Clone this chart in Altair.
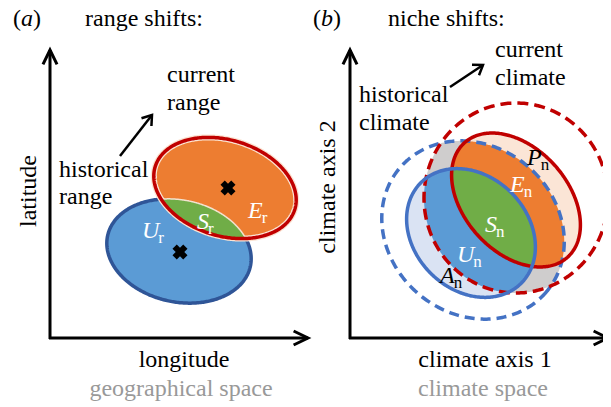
import numpy as np
import pandas as pd
import altair as alt

# ---------------- data (page-pixel coordinates) ----------------
# ellipses: (cx, cy, semi-axis a, semi-axis b, rotation deg, y down)
range_hist = (179, 251, 73, 51, 12)      # U_r ellipse (blue)
range_curr = (225, 188, 73, 48, 17)      # E_r ellipse (orange)
niche_hist = (471, 233, 71, 57, 45)      # solid blue niche
niche_curr = (516, 200, 77, 52, 48)      # solid red niche
clim_hist = (473, 230, 96, 84, 40)       # dashed blue climate
clim_curr = (516, 198, 92, 95, 0)        # dashed red climate

centroid_x = [228, 180]
centroid_y = [188, 252]

# arrows: tail x, tail y, tip x, tip y, head length, head angle
arrow_x0 = [50, 49, 350, 349, 120, 450]
arrow_y0 = [339, 338, 339, 338, 156, 87]
arrow_x1 = [50, 308, 350, 608, 152, 483]
arrow_y1 = [50, 338, 50, 338, 115, 65]
arrow_len = [16, 16, 16, 16, 11, 11]
arrow_ang = [26, 26, 26, 26, 35, 35]

# plain left-aligned texts
txt = ["range shifts:", "niche shifts:", "current", "range", "historical", "range",
       "current", "climate", "historical", "climate"]
txt_x = [85, 388, 167, 167, 59, 59, 495, 495, 359, 359]
txt_y = [26, 26, 82, 110, 177, 204, 57, 85, 102, 130]

# panel tags "(a)" "(b)"
tag = ["a", "b"]
tag_x = [13, 313]
tag_y = [26, 26]

# axis titles
axis_txt = ["longitude", "climate axis 1"]
axis_x = [184, 485]
axis_y = [367, 367]
space_txt = ["geographical space", "climate space"]
space_x = [181, 483]
space_y = [396, 396]
rot_txt = ["latitude", "climate axis 2"]
rot_x = [36, 335]
rot_y = [191, 187]

# region labels: letter, subscript, x, y(baseline), colour
lab_main = ["U", "S", "E", "P", "E", "S", "U", "A"]
lab_sub = ["r", "r", "r", "n", "n", "n", "n", "n"]
lab_x = [142, 197, 248, 527, 510, 485, 457, 440]
lab_y = [238, 229, 218, 165, 192, 232, 262, 283]
lab_col = ["white", "white", "white", "black", "white", "white", "white", "black"]

FONT = "Times New Roman, Liberation Serif, DejaVu Serif, serif"
FS = 24
W, H = 595, 397
xs = alt.Scale(domain=[8, 8 + W], nice=False, zero=False)
ys = alt.Scale(domain=[8, 8 + H], nice=False, zero=False, reverse=True)
X = alt.X("x:Q", scale=xs, axis=None)
Y = alt.Y("y:Q", scale=ys, axis=None)


def ellipse(e, n=360):
    cx, cy, a, b, th = e
    t = np.linspace(0, 2 * np.pi, n, endpoint=False)
    r = np.deg2rad(th)
    x = cx + a * np.cos(t) * np.cos(r) - b * np.sin(t) * np.sin(r)
    y = cy + a * np.cos(t) * np.sin(r) + b * np.sin(t) * np.cos(r)
    return x, y


def inside(x, y, e):
    cx, cy, a, b, th = e
    r = np.deg2rad(th)
    dx, dy = x - cx, y - cy
    u = dx * np.cos(r) + dy * np.sin(r)
    v = -dx * np.sin(r) + dy * np.cos(r)
    return (u / a) ** 2 + (v / b) ** 2 <= 1 + 1e-9


def intersect(*es):
    pts = []
    for i, e in enumerate(es):
        x, y = ellipse(e, 720)
        m = np.ones_like(x, dtype=bool)
        for j, f in enumerate(es):
            if j != i:
                m &= inside(x, y, f)
        pts.append(np.c_[x[m], y[m]])
    P = np.vstack(pts)
    c = P.mean(0)
    ang = np.arctan2(P[:, 1] - c[1], P[:, 0] - c[0])
    P = P[np.argsort(ang)]
    return P[:, 0], P[:, 1]


def poly(xy, fill=None, stroke=None, sw=0, dash=None):
    x, y = xy
    df = pd.DataFrame({"x": x, "y": y, "i": np.arange(len(x))})
    kw = dict(interpolate="linear-closed")
    if fill is not None:
        kw["fill"] = fill
    if stroke is not None:
        kw["stroke"] = stroke
        kw["strokeWidth"] = sw
    else:
        kw["strokeWidth"] = 0
        kw["stroke"] = "transparent"
    if dash is not None:
        kw["strokeDash"] = dash
    return alt.Chart(df).mark_line(**kw).encode(x=X, y=Y, order=alt.Order("i:Q"))


def seg(xs_, ys_, color="black", sw=3, join="miter"):
    df = pd.DataFrame({"x": xs_, "y": ys_, "i": np.arange(len(xs_))})
    return alt.Chart(df).mark_line(color=color, strokeWidth=sw, strokeJoin=join,
                                   strokeCap="butt").encode(x=X, y=Y, order=alt.Order("i:Q"))


layers = []

# ---------------- panel (a) ----------------
layers.append(poly(ellipse(range_hist), fill="#5b9bd5", stroke="#2f5597", sw=3.5))
layers.append(poly(ellipse(range_curr), fill="#ed7d31", stroke="#fbe3d2", sw=6))
layers.append(poly(intersect(range_hist, range_curr), fill="#70ad47", stroke="#f3e2cf", sw=1.5))
layers.append(poly(ellipse(range_curr), stroke="#c00000", sw=3.5))

# ---------------- panel (b) ----------------
layers.append(poly(intersect(clim_hist, clim_curr), fill="#cfcdcd"))
layers.append(poly(ellipse(niche_hist), fill="#dae3f3"))
layers.append(poly(ellipse(niche_curr), fill="#fbe5d6"))
layers.append(poly(intersect(niche_hist, clim_hist, clim_curr), fill="#5b9bd5"))
layers.append(poly(intersect(niche_curr, clim_hist, clim_curr), fill="#ed7d31"))
layers.append(poly(intersect(niche_hist, niche_curr), fill="#70ad47"))
layers.append(poly(ellipse(clim_hist), stroke="#4472c4", sw=3.5, dash=[10, 6]))
layers.append(poly(ellipse(clim_curr), stroke="#c00000", sw=3.5, dash=[11, 6]))
layers.append(poly(ellipse(niche_curr), stroke="#c00000", sw=3.5))
layers.append(poly(ellipse(niche_hist), stroke="#4472c4", sw=3.5))

# centroid crosses
cdf = pd.DataFrame({"x": centroid_x, "y": centroid_y})
layers.append(alt.Chart(cdf).mark_point(shape="cross", angle=45, filled=True, size=230,
                                        color="black", opacity=1).encode(x=X, y=Y))

# arrows
for x0, y0, x1, y1, L, A in zip(arrow_x0, arrow_y0, arrow_x1, arrow_y1, arrow_len, arrow_ang):
    sw = 3 if L > 12 else 2.5
    layers.append(seg([x0, x1], [y0, y1], sw=sw))
    d = np.array([x1 - x0, y1 - y0], dtype=float)
    d /= np.linalg.norm(d)
    hx, hy = [], []
    for s in (1, -1):
        a = np.deg2rad(A) * s
        rx = d[0] * np.cos(a) - d[1] * np.sin(a)
        ry = d[0] * np.sin(a) + d[1] * np.cos(a)
        hx.append(x1 - L * rx)
        hy.append(y1 - L * ry)
    layers.append(seg([hx[0], x1, hx[1]], [hy[0], y1, hy[1]], sw=sw))

# texts
tdf = pd.DataFrame({"x": txt_x, "y": txt_y, "t": txt})
layers.append(alt.Chart(tdf).mark_text(font=FONT, fontSize=FS, align="left", baseline="alphabetic",
                                       color="black").encode(x=X, y=Y, text="t:N"))

pdf = pd.DataFrame({"x": [v for xx in tag_x for v in (xx, xx + 0.333 * FS, xx + 0.833 * FS)],
                    "y": [v for yy in tag_y for v in (yy, yy, yy)],
                    "t": [v for tt in tag for v in ("(", tt, ")")],
                    "s": ["normal", "italic", "normal"] * len(tag)})
for style in ("normal", "italic"):
    layers.append(alt.Chart(pdf[pdf.s == style]).mark_text(
        font=FONT, fontSize=FS, fontStyle=style, align="left", baseline="alphabetic",
        color="black").encode(x=X, y=Y, text="t:N"))

adf = pd.DataFrame({"x": axis_x, "y": axis_y, "t": axis_txt})
layers.append(alt.Chart(adf).mark_text(font=FONT, fontSize=FS, align="center", baseline="alphabetic",
                                       color="black").encode(x=X, y=Y, text="t:N"))
sdf = pd.DataFrame({"x": space_x, "y": space_y, "t": space_txt})
layers.append(alt.Chart(sdf).mark_text(font=FONT, fontSize=FS, align="center", baseline="alphabetic",
                                       color="#999999").encode(x=X, y=Y, text="t:N"))
rdf = pd.DataFrame({"x": rot_x, "y": rot_y, "t": rot_txt})
layers.append(alt.Chart(rdf).mark_text(font=FONT, fontSize=FS, align="center", baseline="alphabetic",
                                       angle=270, color="black").encode(x=X, y=Y, text="t:N"))

# region labels with subscripts
main_w = {"U": 0.722, "S": 0.5, "E": 0.611, "P": 0.611, "A": 0.611}
ldf = pd.DataFrame({"x": lab_x, "y": lab_y, "t": lab_main, "c": lab_col})
sub_x = [x + main_w[m] * FS - 1 for x, m in zip(lab_x, lab_main)]
ldf2 = pd.DataFrame({"x": sub_x, "y": [y + 5 for y in lab_y], "t": lab_sub, "c": lab_col})
cscale = alt.Scale(domain=["white", "black"], range=["white", "black"])
layers.append(alt.Chart(ldf).mark_text(font=FONT, fontSize=FS, fontStyle="italic", align="left",
                                       baseline="alphabetic").encode(
    x=X, y=Y, text="t:N", color=alt.Color("c:N", scale=cscale, legend=None)))
layers.append(alt.Chart(ldf2).mark_text(font=FONT, fontSize=17, align="left",
                                        baseline="alphabetic").encode(
    x=X, y=Y, text="t:N", color=alt.Color("c:N", scale=cscale, legend=None)))

chart = alt.layer(*layers).properties(
    width=W, height=H, padding=0, autosize=alt.AutoSizeParams(type="none"),
    background="white"
).configure_view(stroke=None)

chart.save("out.html", embed_options={"renderer": "svg", "actions": False})
